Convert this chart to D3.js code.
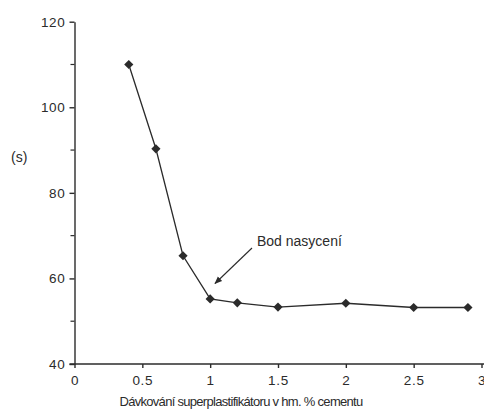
<!DOCTYPE html>
<html>
<head>
<meta charset="utf-8">
<title>Bod nasycení</title>
<script src="https://d3js.org/d3.v7.min.js"></script>
<style>
  body { margin: 0; background: #fff; }
  text { font-family: "Liberation Sans", Arial, sans-serif; fill: #2b2b2b; }
</style>
</head>
<body>
<div id="chart"></div>
<script>
// data
var dosage = [0.4, 0.6, 0.8, 1.0, 1.2, 1.5, 2.0, 2.5, 2.9];
var flowTime = [110, 90.3, 65.3, 55.2, 54.3, 53.3, 54.2, 53.2, 53.2];
var xTicks = [0, 0.5, 1, 1.5, 2, 2.5, 3];
var yTicks = [40, 60, 80, 100, 120];
var yMinor = [50, 70, 90, 110];

var width = 484, height = 412;
var ink = "#2b2b2b";

var svg = d3.select("#chart").append("svg")
  .attr("width", width)
  .attr("height", height);

var x = d3.scaleLinear().domain([0, 3]).range([74.5, 481.5]);
var y = d3.scaleLinear().domain([40, 120]).range([364, 21.7]);

// x axis
var xAxis = svg.append("g")
  .attr("transform", "translate(0," + y(40) + ")")
  .call(d3.axisBottom(x).tickValues(xTicks).tickSize(4).tickSizeOuter(0)
    .tickFormat(function(d) { return d; }));
xAxis.select(".domain").attr("d", "M" + (x(0) - 5) + ",0H" + width);
xAxis.selectAll("line, path").attr("stroke", ink).attr("stroke-width", 1.4);
xAxis.selectAll("text").attr("dy", "1.05em")
  .style("font-size", "13.5px").style("letter-spacing", "0.7px");

// y axis
var yAxis = svg.append("g")
  .attr("transform", "translate(" + x(0) + ",0)")
  .call(d3.axisLeft(y).tickValues(yTicks).tickSize(5).tickSizeOuter(0));
yAxis.selectAll("line, path").attr("stroke", ink).attr("stroke-width", 1.4);
yAxis.selectAll("text").attr("x", -9)
  .style("font-size", "13.5px").style("letter-spacing", "0.7px");

yAxis.selectAll(".minor").data(yMinor).enter().append("line")
  .attr("class", "minor")
  .attr("x1", -4).attr("x2", 0)
  .attr("y1", function(d) { return y(d); })
  .attr("y2", function(d) { return y(d); })
  .attr("stroke", ink).attr("stroke-width", 1.2);

// axis labels
svg.append("text")
  .attr("x", 11).attr("y", 162)
  .style("font-size", "14px")
  .text("(s)");

svg.append("text")
  .attr("x", 241).attr("y", 406)
  .attr("text-anchor", "middle")
  .style("font-size", "13px")
  .style("letter-spacing", "-0.7px")
  .text("Dávkování superplastifikátoru v hm. % cementu");

// series
var pts = dosage.map(function(d, i) { return [d, flowTime[i]]; });

svg.append("path")
  .datum(pts)
  .attr("fill", "none")
  .attr("stroke", ink)
  .attr("stroke-width", 1.3)
  .attr("d", d3.line()
    .x(function(d) { return x(d[0]); })
    .y(function(d) { return y(d[1]); }));

svg.selectAll(".pt").data(pts).enter().append("path")
  .attr("class", "pt")
  .attr("transform", function(d) { return "translate(" + x(d[0]) + "," + y(d[1]) + ")"; })
  .attr("d", "M0,-4.6L4.6,0L0,4.6L-4.6,0Z")
  .attr("fill", ink);

// annotation
svg.append("defs").append("marker")
  .attr("id", "head")
  .attr("viewBox", "0 0 10 10")
  .attr("refX", 9).attr("refY", 5)
  .attr("markerWidth", 7).attr("markerHeight", 7)
  .attr("orient", "auto")
  .append("path")
  .attr("d", "M0,1L10,5L0,9Z")
  .attr("fill", ink);

svg.append("line")
  .attr("x1", 252).attr("y1", 248)
  .attr("x2", 215).attr("y2", 283.5)
  .attr("stroke", ink)
  .attr("stroke-width", 1.1)
  .attr("marker-end", "url(#head)");

svg.append("text")
  .attr("x", 257).attr("y", 246)
  .style("font-size", "14px")
  .text("Bod nasycení");
</script>
</body>
</html>
